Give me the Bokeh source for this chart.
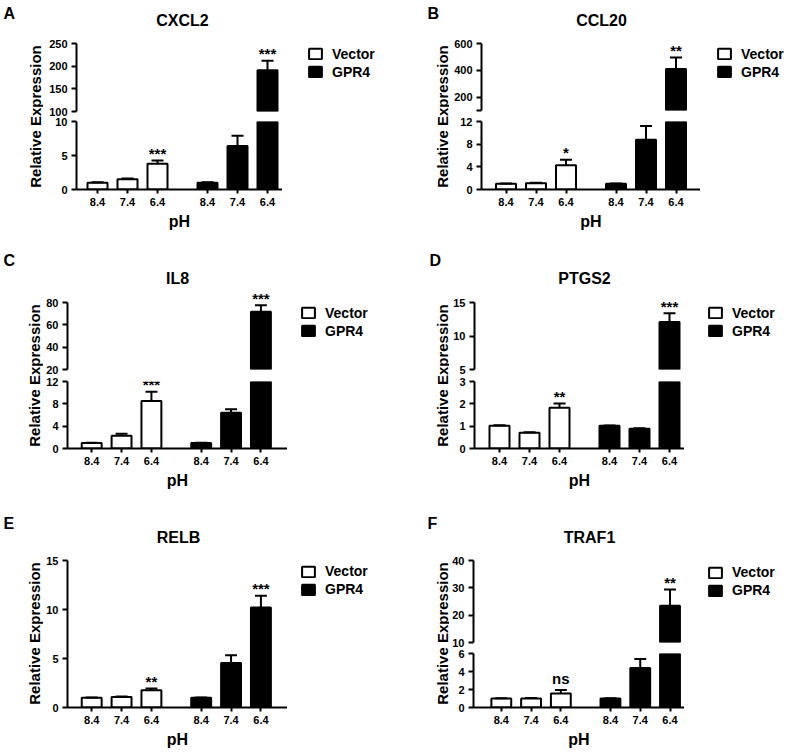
import math
from bokeh.plotting import figure
from bokeh.layouts import row, column
from bokeh.models import Range1d, FixedTicker, Label, Legend, LegendItem, ColumnDataSource
from bokeh.embed import file_html
from bokeh.resources import INLINE

# ---------------- data ----------------
ph_labels = ["8.4", "7.4", "6.4"]
series_names = ["Vector", "GPR4"]
series_colors = ["white", "black"]
panel_letters = ["A", "B", "C", "D", "E", "F"]
genes = ["CXCL2", "CCL20", "IL8", "PTGS2", "RELB", "TRAF1"]
y_title = "Relative Expression"
x_title = "pH"

cxcl2_vector = [1.0, 1.5, 3.8]
cxcl2_vector_err = [0.05, 0.1, 0.45]
cxcl2_gpr4 = [1.0, 6.4, 191.0]
cxcl2_gpr4_err = [0.05, 1.5, 21.0]
cxcl2_vector_sig = ["", "", "***"]
cxcl2_gpr4_sig = ["", "", "***"]
cxcl2_lower_ticks = [0, 5, 10]
cxcl2_upper_ticks = [100, 150, 200, 250]

ccl20_vector = [1.0, 1.1, 4.3]
ccl20_vector_err = [0.05, 0.1, 0.95]
ccl20_gpr4 = [1.0, 8.8, 410.0]
ccl20_gpr4_err = [0.05, 2.4, 86.0]
ccl20_vector_sig = ["", "", "*"]
ccl20_gpr4_sig = ["", "", "**"]
ccl20_lower_ticks = [0, 4, 8, 12]
ccl20_upper_ticks = [100, 200, 400, 600]
ccl20_upper_labels = ["", "200", "400", "600"]

il8_vector = [1.0, 2.3, 8.5]
il8_vector_err = [0.05, 0.35, 1.65]
il8_gpr4 = [1.0, 6.4, 71.7]
il8_gpr4_err = [0.05, 0.65, 5.9]
il8_vector_sig = ["", "", "***"]
il8_gpr4_sig = ["", "", "***"]
il8_lower_ticks = [0, 4, 8, 12]
il8_upper_ticks = [20, 40, 60, 80]

ptgs2_vector = [1.02, 0.71, 1.82]
ptgs2_vector_err = [0.02, 0.02, 0.2]
ptgs2_gpr4 = [1.02, 0.88, 12.1]
ptgs2_gpr4_err = [0.01, 0.03, 1.3]
ptgs2_vector_sig = ["", "", "**"]
ptgs2_gpr4_sig = ["", "", "***"]
ptgs2_lower_ticks = [0, 1, 2, 3]
ptgs2_upper_ticks = [5, 10, 15]

relb_vector = [1.0, 1.07, 1.75]
relb_vector_err = [0.02, 0.06, 0.18]
relb_gpr4 = [1.0, 4.55, 10.2]
relb_gpr4_err = [0.03, 0.78, 1.2]
relb_vector_sig = ["", "", "**"]
relb_gpr4_sig = ["", "", "***"]
relb_ticks = [0, 5, 10, 15]

traf1_vector = [1.0, 1.0, 1.55]
traf1_vector_err = [0.02, 0.05, 0.4]
traf1_gpr4 = [1.0, 4.4, 23.4]
traf1_gpr4_err = [0.02, 1.0, 6.0]
traf1_vector_sig = ["", "", "ns"]
traf1_gpr4_sig = ["", "", "**"]
traf1_lower_ticks = [0, 2, 4, 6]
traf1_upper_ticks = [10, 20, 30, 40]

# ---------------- style / layout ----------------
FONT = "Liberation Sans"
PITCH = 3          # bar slot (data units, 10 px per unit)
GROUP_GAP = 5      # extra distance between the two groups
BAR_W = 2
CAP = 0.6
PX = 10.0          # pixels per x unit
TXT_SHIFT = 5      # baseline correction for labels

vector_x = [i * PITCH for i in range(len(ph_labels))]
gpr4_x = [x + (len(ph_labels) - 1) * PITCH + GROUP_GAP for x in vector_x]

panels = [
    dict(letter=panel_letters[0], gene=genes[0], vec=cxcl2_vector, vec_err=cxcl2_vector_err,
         gpr=cxcl2_gpr4, gpr_err=cxcl2_gpr4_err, vec_sig=cxcl2_vector_sig, gpr_sig=cxcl2_gpr4_sig,
         segs=[(cxcl2_upper_ticks, None), (cxcl2_lower_ticks, None)],
         cell=(0, 0, 394, 250), strip_end=43, fl=76, xr=(-2.1, 18.5), fpx=[(43, 111), (121, 189)],
         letter_xy=(3, 18), title_xy=(182, 25), ylab_xy=(34.5, 116), legend_xy=(307, 53.5)),
    dict(letter=panel_letters[1], gene=genes[1], vec=ccl20_vector, vec_err=ccl20_vector_err,
         gpr=ccl20_gpr4, gpr_err=ccl20_gpr4_err, vec_sig=ccl20_vector_sig, gpr_sig=ccl20_gpr4_sig,
         segs=[(ccl20_upper_ticks, ccl20_upper_labels), (ccl20_lower_ticks, None)],
         cell=(394, 0, 392, 250), strip_end=449, fl=481, xr=(-2.45, 19.45), fpx=[(43, 110), (121, 189)],
         letter_xy=(427, 18), title_xy=(601, 25), ylab_xy=(441.5, 116), legend_xy=(716, 53.5)),
    dict(letter=panel_letters[2], gene=genes[2], vec=il8_vector, vec_err=il8_vector_err,
         gpr=il8_gpr4, gpr_err=il8_gpr4_err, vec_sig=il8_vector_sig, gpr_sig=il8_gpr4_sig,
         segs=[(il8_upper_ticks, None), (il8_lower_ticks, None)],
         cell=(0, 250, 394, 250), strip_end=43, fl=66, xr=(-2.43, 19.67), fpx=[(302, 369), (381, 448)],
         letter_xy=(3, 265), title_xy=(176, 283), ylab_xy=(33.5, 375), legend_xy=(300, 312.5)),
    dict(letter=panel_letters[3], gene=genes[3], vec=ptgs2_vector, vec_err=ptgs2_vector_err,
         gpr=ptgs2_gpr4, gpr_err=ptgs2_gpr4_err, vec_sig=ptgs2_vector_sig, gpr_sig=ptgs2_gpr4_sig,
         segs=[(ptgs2_upper_ticks, None), (ptgs2_lower_ticks, None)],
         cell=(394, 250, 392, 250), strip_end=449, fl=474, xr=(-2.5, 18.5), fpx=[(302, 369), (381, 448)],
         letter_xy=(429, 265), title_xy=(584, 283), ylab_xy=(441.5, 375), legend_xy=(707, 312.5)),
    dict(letter=panel_letters[4], gene=genes[4], vec=relb_vector, vec_err=relb_vector_err,
         gpr=relb_gpr4, gpr_err=relb_gpr4_err, vec_sig=relb_vector_sig, gpr_sig=relb_gpr4_sig,
         segs=[(relb_ticks, None)],
         cell=(0, 500, 394, 250), strip_end=43, fl=66, xr=(-2.43, 19.67), fpx=[(560, 707)],
         letter_xy=(3, 528), title_xy=(177, 542), ylab_xy=(33.5, 633), legend_xy=(300, 571)),
    dict(letter=panel_letters[5], gene=genes[5], vec=traf1_vector, vec_err=traf1_vector_err,
         gpr=traf1_gpr4, gpr_err=traf1_gpr4_err, vec_sig=traf1_vector_sig, gpr_sig=traf1_gpr4_sig,
         segs=[(traf1_upper_ticks, None), (traf1_lower_ticks, None)],
         cell=(394, 500, 392, 250), strip_end=449, fl=471, xr=(-2.8, 18.46), fpx=[(560, 642), (653, 707)],
         letter_xy=(427, 528), title_xy=(587, 542), ylab_xy=(441.5, 633), legend_xy=(707, 572)),
]


def style_fig(p):
    p.outline_line_color = None
    p.background_fill_color = "white"
    p.border_fill_color = "white"
    p.xgrid.visible = False
    p.ygrid.visible = False


def style_axis(ax, tick_out):
    ax.axis_line_width = 2
    ax.axis_line_color = "black"
    ax.major_tick_line_width = 2
    ax.major_tick_line_color = "black"
    ax.major_tick_out = tick_out
    ax.major_tick_in = 0
    ax.minor_tick_out = 0
    ax.minor_tick_in = 0
    ax.major_label_text_font = FONT
    ax.major_label_text_font_size = "11px"
    ax.major_label_text_font_style = "bold"
    ax.major_label_text_color = "black"


def draw_series(p, xs, vals, errs, color, keep):
    idx = [k for k in range(len(vals)) if keep(vals[k])]
    xs = [xs[k] for k in idx]
    vals = [vals[k] for k in idx]
    errs = [errs[k] for k in idx]
    src = ColumnDataSource(dict(
        x=xs, top=vals,
        etop=[v + e for v, e in zip(vals, errs)],
        cl=[x - CAP for x in xs], cr=[x + CAP for x in xs]))
    p.vbar(x="x", top="top", bottom=0, width=BAR_W, source=src,
           fill_color=color, line_color="black", line_width=2)
    p.segment(x0="x", y0="top", x1="x", y1="etop", source=src, line_color="black", line_width=2)
    p.segment(x0="cl", y0="etop", x1="cr", y1="etop", source=src, line_color="black", line_width=2)


def text_label(**kw):
    base = dict(text_font=FONT, text_font_style="bold", text_color="black")
    base.update(kw)
    return Label(**base)


def blank_fig(w, h):
    f = figure(width=w, height=h, x_range=Range1d(0, w), y_range=Range1d(0, h),
               output_backend="svg", toolbar_location=None, tools="",
               x_axis_location=None, y_axis_location=None, min_border=0)
    style_fig(f)
    return f


def make_cell(pd):
    x0, y0, w, h = pd["cell"]
    strip_w = pd["strip_end"] - x0
    fl = pd["fl"]
    x_start, x_end = pd["xr"]
    fr = int(round(fl + (x_end - x_start) * PX))
    main_w = fr - pd["strip_end"]
    right_w = x0 + w - fr
    nseg = len(pd["segs"])
    fpx = pd["fpx"]
    bounds = [y0]
    for i in range(nseg - 1):
        bounds.append(int(round((fpx[i][1] + fpx[i + 1][0]) / 2)))
    bounds.append(y0 + h)

    figs = []
    for i, (ticks, labels) in enumerate(pd["segs"]):
        top_px, bot_px = fpx[i]
        is_top = (i == 0)
        is_bottom = (i == nseg - 1)
        lo, hi = ticks[0], ticks[-1]
        # top segment: frame reaches up to the top of the cell (axis bounded to lo..hi)
        frame_top = bounds[i] if is_top else top_px
        y_hi = lo + (hi - lo) * (bot_px - frame_top) / (bot_px - top_px)
        p = figure(width=main_w, height=bounds[i + 1] - bounds[i],
                   x_range=Range1d(x_start, x_end), y_range=Range1d(lo, y_hi),
                   output_backend="svg", toolbar_location=None, tools="",
                   x_axis_location="below" if is_bottom else None,
                   min_border_top=frame_top - bounds[i],
                   min_border_bottom=bounds[i + 1] - bot_px,
                   min_border_left=fl - pd["strip_end"],
                   min_border_right=0)
        style_fig(p)
        ya = p.yaxis[0]
        style_axis(ya, 5)
        ya.ticker = FixedTicker(ticks=ticks)
        ya.bounds = (lo, hi)
        ya.major_label_standoff = 4
        if labels is not None:
            ya.major_label_overrides = {t: l for t, l in zip(ticks, labels)}
        if is_bottom:
            xa = p.xaxis[0]
            style_axis(xa, 4)
            all_x = vector_x + gpr4_x
            xa.ticker = FixedTicker(ticks=all_x)
            xa.major_label_overrides = {x: l for x, l in zip(all_x, ph_labels + ph_labels)}
            xa.major_label_standoff = 4
            xa.axis_label = x_title
            xa.axis_label_text_font = FONT
            xa.axis_label_text_font_size = "16px"
            xa.axis_label_text_font_style = "bold"
            xa.axis_label_text_color = "black"
            xa.axis_label_standoff = 4

        keep = (lambda v: True) if is_bottom else (lambda v, lo=lo: v > lo)
        draw_series(p, vector_x, pd["vec"], pd["vec_err"], series_colors[0], keep)
        draw_series(p, gpr4_x, pd["gpr"], pd["gpr_err"], series_colors[1], keep)

        # significance marks drawn in the segment where the error bar ends
        for xs, vals, errs, sigs in ((vector_x, pd["vec"], pd["vec_err"], pd["vec_sig"]),
                                     (gpr4_x, pd["gpr"], pd["gpr_err"], pd["gpr_sig"])):
            for x, v, e, s in zip(xs, vals, errs, sigs):
                if not s:
                    continue
                et = v + e
                if is_top and not is_bottom:
                    ok = et > lo
                elif is_bottom and not is_top:
                    ok = et <= hi
                else:
                    ok = True
                if not ok:
                    continue
                p.add_layout(text_label(x=x, y=et, text=s, text_align="center",
                                        text_baseline="alphabetic",
                                        y_offset=(6 if s == "ns" else 2) + TXT_SHIFT,
                                        text_font_size="15px"))

        if is_top:
            tx, tyb = pd["title_xy"]
            p.add_layout(text_label(x=tx - fl, y=bot_px - tyb + TXT_SHIFT,
                                    x_units="screen", y_units="screen",
                                    text=pd["gene"], text_align="center",
                                    text_baseline="alphabetic", text_font_size="16px"))
        figs.append(p)

    # left strip: panel letter and y axis title
    strip = blank_fig(strip_w, h)
    lx, lb = pd["letter_xy"]
    strip.add_layout(text_label(x=lx - x0, y=(y0 + h) - lb + TXT_SHIFT, text=pd["letter"],
                                text_align="left", text_baseline="alphabetic",
                                text_font_size="16px"))
    yx, yy = pd["ylab_xy"]
    strip.add_layout(text_label(x=yx - x0, y=(y0 + h) - yy, text=y_title, angle=math.pi / 2,
                                text_align="center", text_baseline="middle",
                                text_font_size="15px"))

    # right strip: legend
    rs = blank_fig(right_w, h)
    proxies = [rs.vbar(x=[float("nan")], top=[float("nan")], width=BAR_W,
                       fill_color=c, line_color="black", line_width=2)
               for c in series_colors]
    lx, lc = pd["legend_xy"]   # left of boxes, centre of first box
    legend_top = lc - 8
    legend = Legend(items=[LegendItem(label=n, renderers=[r]) for n, r in zip(series_names, proxies)],
                    location=(lx - fr, (y0 + h) - (legend_top + 34)),
                    orientation="vertical", border_line_color=None,
                    background_fill_alpha=0, glyph_width=16, glyph_height=13,
                    label_text_font=FONT, label_text_font_size="14px",
                    label_text_font_style="bold", label_text_color="black",
                    label_standoff=9, spacing=2, padding=0, margin=0,
                    label_height=16)
    rs.add_layout(legend)
    return row(strip, column(*figs, spacing=0), rs, spacing=0)


cells = [make_cell(pd) for pd in panels]
layout = column(row(cells[0], cells[1], spacing=0),
                row(cells[2], cells[3], spacing=0),
                row(cells[4], cells[5], spacing=0), spacing=0)

open("out.html", "w").write(file_html(layout, INLINE, title="GPR4 pH"))
